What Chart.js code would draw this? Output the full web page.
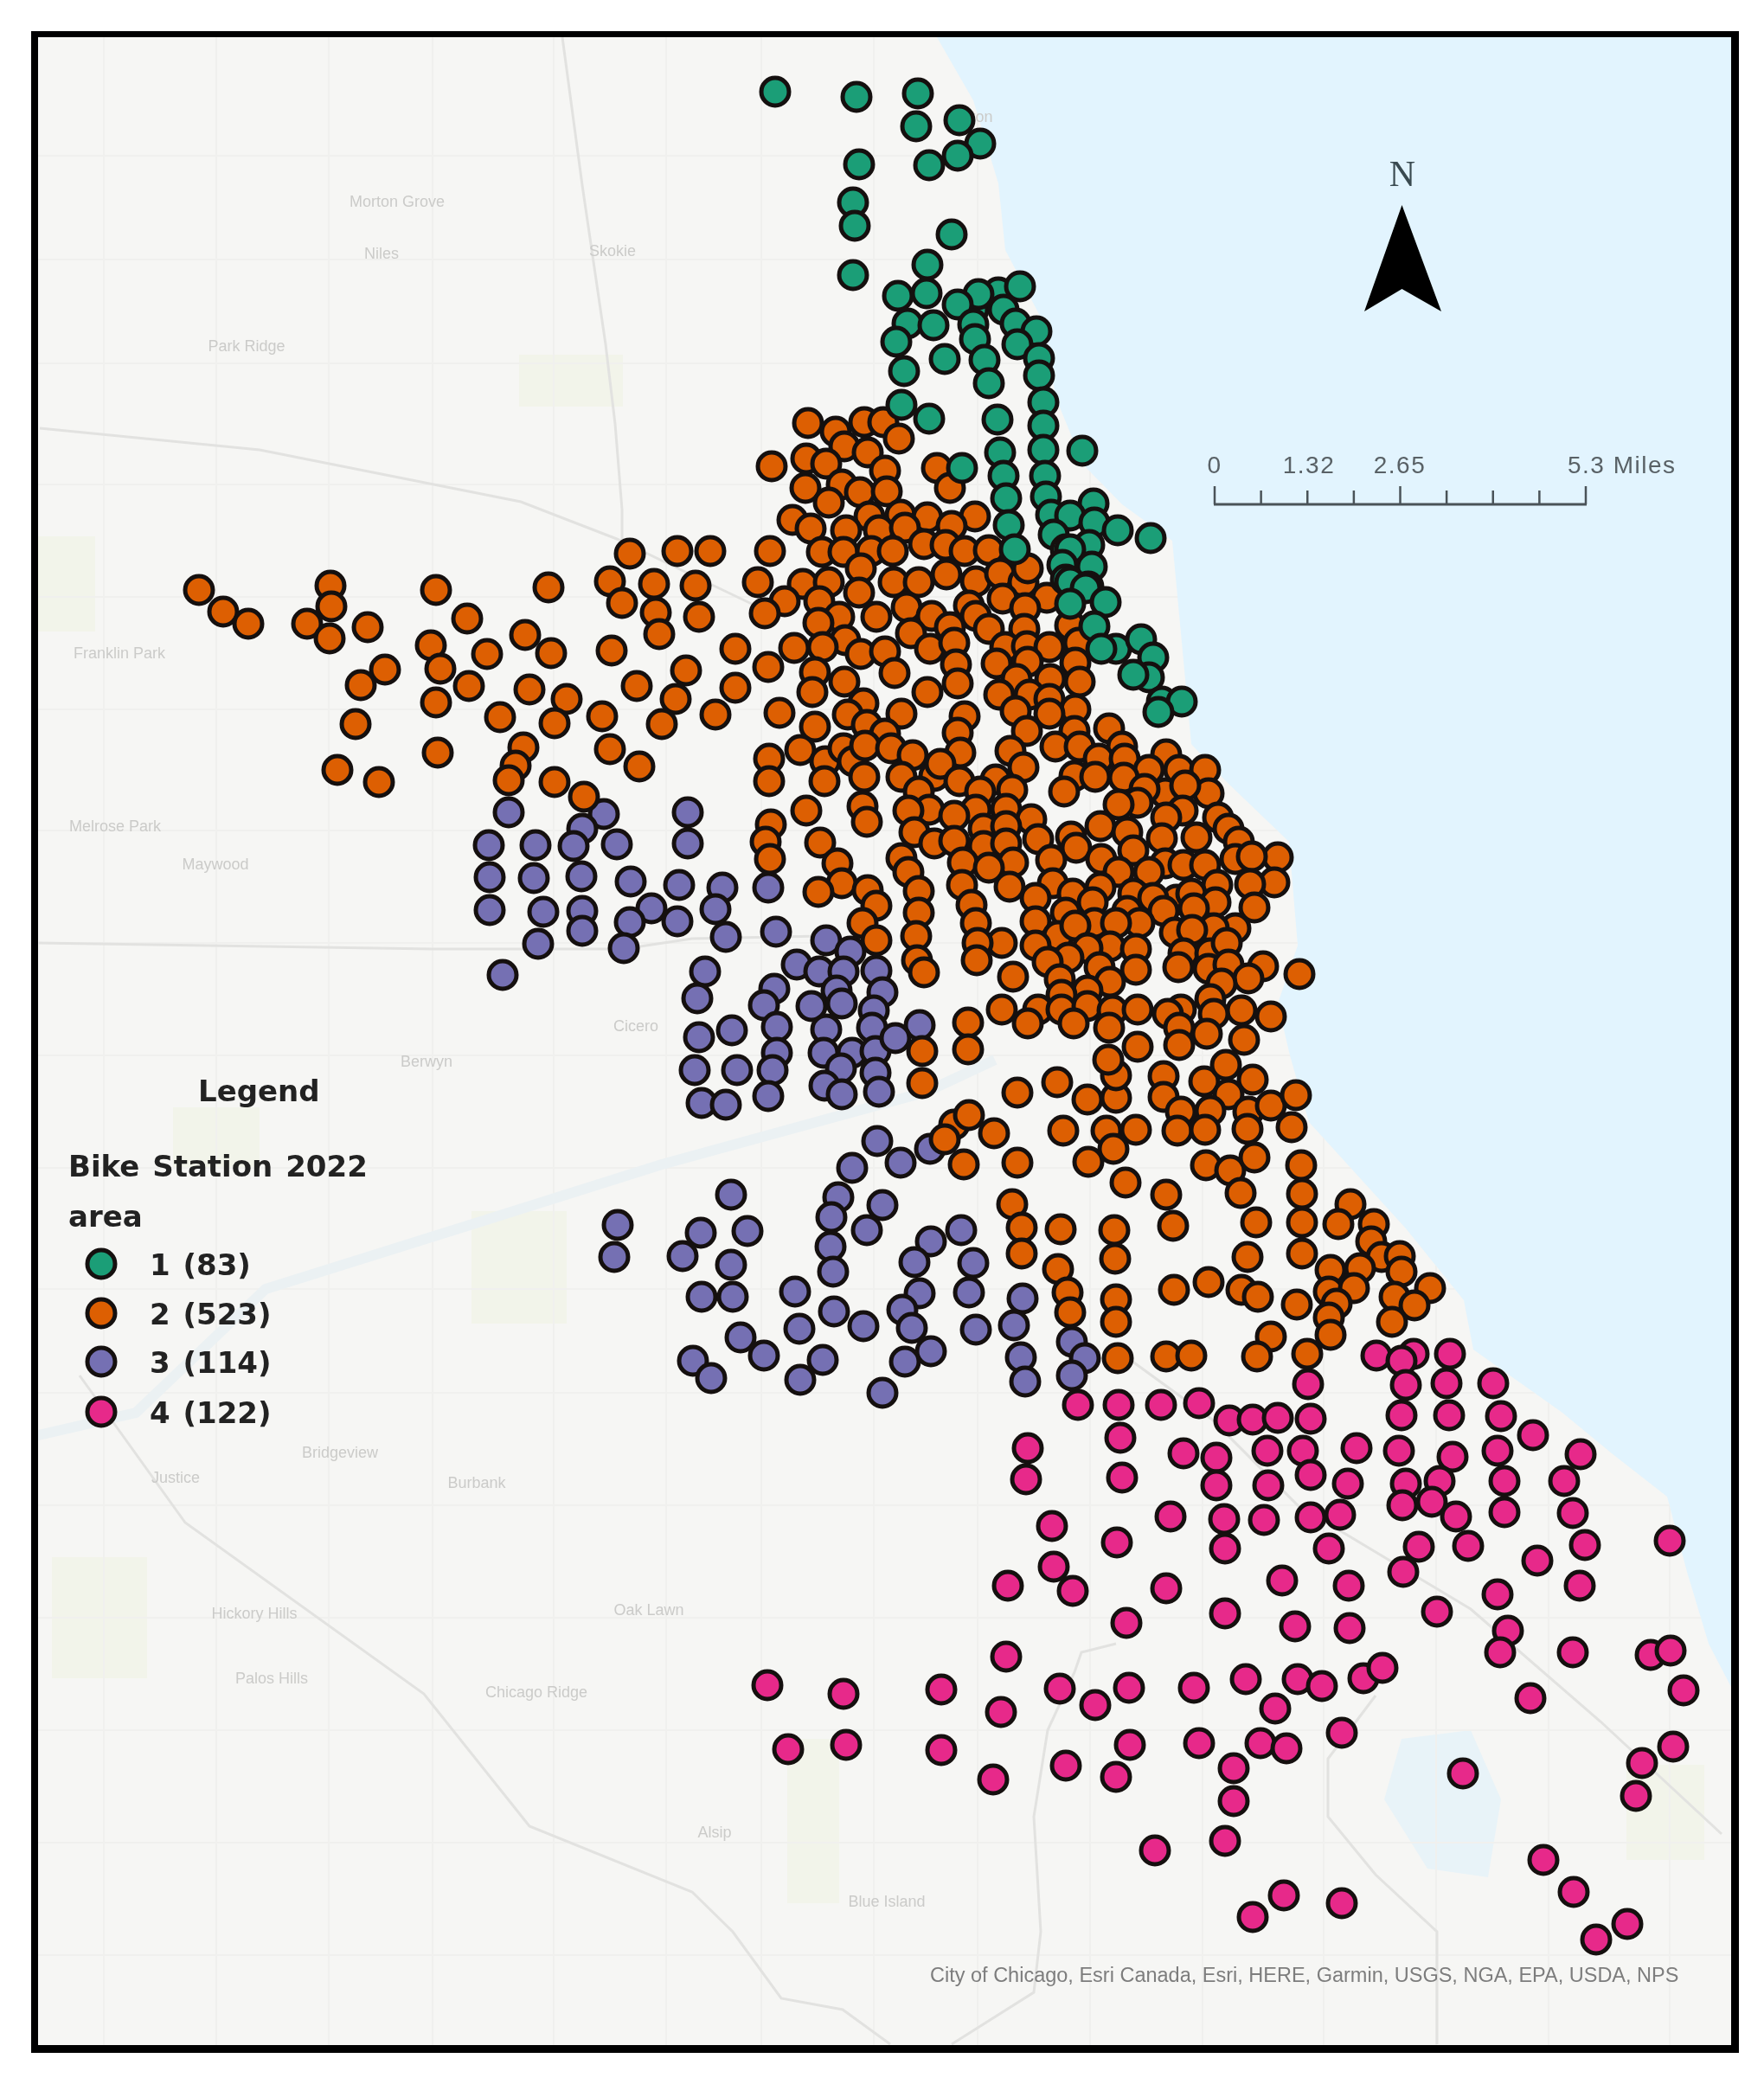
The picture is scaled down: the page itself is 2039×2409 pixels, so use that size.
<!DOCTYPE html>
<html>
<head>
<meta charset="utf-8">
<title>Bike Station 2022</title>
<script src="https://cdn.jsdelivr.net/npm/chart.js@4"></script>
<style>
  html, body { margin:0; padding:0; background:#fff; }
  canvas { display:block; filter:blur(0.7px); }
</style>
</head>
<body>
<canvas id="mapChart" width="2039" height="2409"></canvas>
<script>
// stations (map position in picture pixels)
const area1 = [[896,106],[990,112],[1061,108],[1059,146],[1109,139],[1133,166],[1107,180],[1074,191],[993,190],[986,234],[988,261],[1100,271],[1072,306],[986,318],[1038,342],[1071,339],[1154,338],[1179,331],[1125,358],[1160,358],[1131,340],[1107,352],[1049,374],[1079,376],[1125,375],[1174,374],[1198,383],[1036,395],[1127,392],[1176,398],[1092,415],[1138,416],[1201,414],[1045,429],[1201,434],[1143,443],[1206,465],[1042,468],[1074,484],[1153,485],[1206,492],[1156,523],[1206,520],[1251,521],[1112,541],[1160,550],[1208,550],[1163,576],[1209,574],[1264,582],[1215,595],[1237,596],[1265,604],[1166,607],[1292,613],[1330,622],[1218,618],[1173,635],[1232,635],[1259,630],[1237,635],[1262,655],[1228,653],[1232,670],[1237,673],[1258,678],[1255,680],[1278,696],[1237,698],[1265,724],[1290,750],[1273,750],[1319,739],[1333,760],[1328,783],[1310,780],[1343,811],[1366,811],[1339,823]];

const area2 = [[934,489],[966,499],[999,488],[1021,488],[1039,507],[976,516],[1003,523],[932,530],[955,536],[892,539],[1023,544],[1083,541],[973,560],[931,564],[1098,564],[994,569],[1025,568],[958,581],[916,601],[1005,597],[1041,595],[1072,598],[1127,597],[1100,608],[937,611],[978,613],[1016,613],[1046,610],
  [890,637],[950,638],[975,638],[1007,637],[1032,637],[1068,629],[1093,630],[1115,637],[1143,636],[995,657],[876,673],[928,675],[958,673],[993,685],[1033,673],[1062,673],[1094,664],[1128,672],[1156,663],[1183,673],[1188,657],[1159,692],[1210,691],[907,695],[884,709],[947,695],[1048,702],[1120,700],[1185,703],[970,713],[946,720],[1013,713],[1077,712],[1128,712],[1143,727],[1184,727],[1237,723],[1098,725],[1053,732],[977,740],[918,749],[951,748],[995,756],[1023,753],[1075,750],[1103,743],[1162,748],[1187,747],[1213,748],[1247,743],[888,771],[1105,768],[1152,767],[1188,765],[1243,766],[942,777],[1034,778],[976,788],[1175,785],[1214,785],[1107,790],[1248,788],[939,800],[1072,800],[1155,803],[1190,803],[1213,808],[998,813],[1243,820],[901,824],[980,826],[1042,825],[1115,828],[1174,822],[1213,825],[942,840],[1002,838],[1023,848],[1107,847],[1187,845],[1242,845],[1282,842],
  // west side
  [230,682],[258,707],[287,721],[382,677],[383,701],[355,721],[381,738],[425,725],[504,682],[540,715],[634,679],[728,640],[783,637],[821,637],[705,672],[756,675],[804,677],[719,697],[758,708],[808,713],[762,733],[607,734],[498,746],[563,756],[637,755],[707,752],[850,750],[445,774],[509,773],[793,775],[417,792],[542,793],[612,797],[736,793],[655,808],[781,808],[850,795],[504,812],[578,829],[641,836],[696,828],[827,826],[765,837],[411,837],[605,864],[705,866],[506,870],[739,886],[596,885],[390,890],[438,904],[588,902],[641,904],[675,921],
  [889,877],[889,903],[925,867],[954,880],[953,903],[975,865],[986,880],[999,898],[1000,862],[932,937],[997,932],[1002,950],[891,953],[885,973],[890,993],[948,974],[968,998],[973,1021],[946,1031],[1003,1029],[1013,1047],[997,1067],[1013,1087],
  // loop and downtown
  [1030,865],[1055,873],[1110,870],[1168,868],[1183,887],[1220,863],[1248,863],[1297,863],[1348,872],[1270,877],[1300,877],[1363,890],[1393,890],[1328,890],[1042,898],[1080,897],[1087,883],[1109,903],[1151,901],[1242,897],[1266,898],[1299,899],[1230,915],[1397,917],[1347,917],[1323,912],[1370,908],[1062,915],[1170,913],[1133,915],[1074,936],[1050,937],[1128,936],[1163,935],[1103,943],[1192,947],[1315,928],[1293,930],[1367,937],[1408,945],[1348,945],[1272,955],[1303,962],[1420,958],[1057,962],[1137,958],[1163,955],[1343,969],[1383,968],[1432,973],[1200,970],[1238,967],[1244,980],[1080,975],[1103,972],[1137,978],[1163,975],[1310,983],[1477,991],[1428,993],[1447,990],[1042,992],[1215,994],[1273,993],[1113,997],[1171,997],[1347,998],[1368,1000],[1143,1003],[1328,1008],[1293,1008],[1050,1008],[1393,1000],[1473,1020],[1217,1021],[1272,1026],[1407,1023],[1445,1022],[1112,1023],[1167,1025],[1360,1040],[1062,1030],[1240,1033],[1310,1033],[1333,1038],[1377,1033],[1197,1038],[1123,1046],[1303,1053],[1450,1049],[1405,1043],[1263,1043],[1345,1053],[1380,1050],[1232,1055],[1062,1055],[1197,1065],[1128,1067],[1265,1067],[1317,1067],[1290,1067],[1428,1073],[1403,1073],[1358,1078],[1378,1075],[1223,1082],[1243,1070],[1059,1082],[1158,1090],[1130,1090],[1197,1093],[1283,1094],[1257,1096],[1313,1097],[1368,1102],[1399,1102],[1418,1090],[1235,1107],[1211,1112],[1129,1110],[1060,1110],[1271,1118],[1313,1121],[1362,1118],[1397,1120],[1420,1115],[1460,1117],[1502,1126],[1068,1124],[1443,1131],[1225,1132],[1171,1129],[1283,1135],[1412,1137],[1257,1145],[1399,1155],[1227,1150],[1158,1167],[1200,1167],[1227,1167],[1257,1163],[1286,1168],[1315,1167],[1365,1167],[1350,1172],[1435,1168],[1403,1172],[1469,1175],[1188,1183],[1119,1182],[1241,1183],[1282,1188],[1395,1195],[1363,1188],[1363,1208],[1438,1202],[1119,1213],[1315,1210],[1066,1215],
  // south side
  [1066,1252],[1176,1263],[1222,1251],[1257,1271],[1290,1269],[1290,1243],[1281,1225],[1345,1244],[1345,1268],[1392,1250],[1417,1231],[1448,1248],[1420,1265],[1365,1285],[1399,1284],[1443,1285],[1469,1278],[1498,1266],[1103,1300],[1120,1289],[1092,1317],[1149,1310],[1229,1307],[1279,1307],[1313,1306],[1361,1307],[1393,1306],[1442,1305],[1493,1303],[1287,1328],[1114,1346],[1176,1344],[1258,1343],[1394,1347],[1422,1353],[1450,1338],[1504,1347],[1301,1367],[1348,1381],[1434,1379],[1505,1380],[1170,1392],[1561,1392],[1181,1419],[1226,1421],[1288,1422],[1356,1417],[1452,1413],[1505,1413],[1547,1415],[1588,1415],[1585,1435],[1181,1449],[1289,1455],[1442,1453],[1505,1449],[1597,1453],[1618,1452],[1620,1470],[1538,1468],[1572,1466],[1223,1467],[1397,1482],[1234,1494],[1357,1491],[1435,1491],[1454,1499],[1536,1493],[1565,1489],[1653,1489],[1612,1499],[1545,1507],[1499,1508],[1635,1509],[1290,1502],[1237,1517],[1536,1523],[1290,1528],[1609,1528],[1538,1543],[1469,1545],[1453,1568],[1511,1565],[1292,1570],[1348,1568],[1377,1567]];

const area3 = [[588,939],[698,941],[673,958],[795,939],[565,977],[619,977],[663,978],[713,976],[795,975],[566,1014],[617,1015],[672,1013],[729,1019],[785,1023],[835,1026],[888,1026],[566,1052],[628,1054],[673,1053],[753,1050],[827,1051],[783,1065],[728,1066],[673,1076],[839,1083],[622,1091],[721,1096],[897,1077],[581,1127],[955,1087],[983,1100],[921,1115],[947,1123],[975,1123],[1013,1122],[815,1123],[806,1154],[895,1143],[883,1162],[967,1145],[1020,1147],[938,1163],[973,1160],[1010,1168],[898,1187],[955,1190],[1008,1188],[808,1199],[846,1191],[898,1217],[952,1217],[985,1217],[1012,1215],[1063,1185],[1035,1200],[803,1237],[852,1237],[893,1237],[972,1235],[1012,1240],[953,1255],[973,1265],[1016,1262],[888,1267],[811,1275],[839,1277],
  [1014,1319],[1041,1344],[1075,1328],[985,1350],[845,1381],[969,1384],[1020,1393],[961,1407],[1002,1422],[714,1416],[810,1425],[864,1423],[1111,1422],[1076,1435],[710,1453],[789,1452],[845,1462],[960,1441],[963,1470],[1057,1459],[1125,1460],[811,1499],[847,1499],[919,1493],[1063,1495],[1120,1494],[1182,1501],[964,1516],[1043,1514],[924,1536],[998,1533],[1054,1535],[1128,1537],[1172,1532],[856,1546],[883,1567],[951,1572],[1076,1562],[1046,1574],[1180,1569],[1239,1551],[1254,1570],[801,1573],[822,1593],[925,1595],[1185,1597],[1239,1590],[1020,1610]];

const area4 = [[1246,1624],[1293,1624],[1342,1624],[1386,1622],[1421,1642],[1448,1641],[1477,1639],[1515,1640],[1512,1600],[1591,1567],[1634,1565],[1620,1573],[1676,1565],[1625,1601],[1672,1599],[1726,1599],[1620,1636],[1675,1636],[1735,1637],[1772,1659],[1827,1681],[1188,1674],[1295,1662],[1368,1680],[1406,1685],[1465,1677],[1506,1677],[1568,1674],[1617,1677],[1679,1684],[1731,1677],[1186,1710],[1297,1708],[1406,1717],[1466,1717],[1515,1705],[1558,1715],[1625,1715],[1664,1712],[1739,1712],[1808,1712],[1621,1740],[1655,1736],[1683,1753],[1739,1748],[1818,1749],[1216,1764],[1353,1753],[1415,1756],[1461,1757],[1515,1754],[1549,1751],[1291,1783],[1416,1790],[1536,1790],[1640,1788],[1697,1787],[1832,1786],[1930,1781],[1218,1811],[1622,1817],[1777,1804],[1165,1833],[1240,1839],[1348,1836],[1482,1827],[1559,1833],[1731,1843],[1826,1833],[1302,1876],[1416,1865],[1497,1880],[1560,1882],[1661,1863],[1743,1885],[1163,1915],[1734,1910],[1818,1910],[1908,1913],[1931,1908],[1225,1952],[1305,1951],[1380,1951],[1440,1941],[1500,1941],[1528,1949],[1576,1940],[1598,1928],[1769,1963],[1946,1954],[1266,1971],[1474,1975],[1157,1979],
  [887,1948],[975,1958],[1088,1953],[1551,2003],[911,2022],[978,2017],[1088,2023],[1306,2017],[1386,2015],[1457,2015],[1487,2021],[1232,2041],[1290,2054],[1148,2057],[1426,2044],[1426,2082],[1691,2050],[1934,2019],[1898,2038],[1891,2076],[1416,2128],[1335,2139],[1784,2150],[1819,2187],[1484,2191],[1551,2200],[1448,2216],[1881,2224],[1845,2242]];

const areaLabels = ['1 (83)', '2 (523)', '3 (114)', '4 (122)'];
const areaColors = ['#1b9e77', '#dd5f02', '#7570b3', '#e7298a'];

// base map pieces
const lakeShore = [[1083,43],[1125,116],[1154,212],[1162,289],[1202,365],[1221,461],[1252,537],[1297,583],[1355,625],[1377,860],[1417,903],[1490,973],[1500,1093],[1477,1160],[1491,1220],[1513,1297],[1625,1420],[1692,1503],[1703,1560],[1806,1633],[1863,1680],[1927,1730],[1950,1817],[1975,1900],[2001,1950]];
const calumet = [[1620,2010],[1700,2000],[1735,2080],[1720,2170],[1650,2160],[1600,2080]];
const parks = [[200,1280,100,70],[545,1400,110,130],[910,2010,60,190],[60,1800,110,140],[600,410,120,60],[1880,2040,90,110],[40,620,70,110]];
const streetsX = [120,250,380,500,640,770,880,1010,1130,1260,1390,1530,1660,1790,1930];
const streetsY = [180,300,420,560,690,820,960,1090,1220,1350,1490,1610,1740,1870,2000,2130,2260];
const highways = [
  [[650,43],[673,214],[700,398],[711,490],[719,589],[719,642]],
  [[46,495],[300,520],[602,580],[713,623],[825,677],[900,713]],
  [[45,1090],[500,1097],[720,1097],[800,1085],[950,1082]],
  [[92,1590],[214,1760],[490,1958],[612,2111],[800,2187],[847,2233],[903,2310],[974,2323],[1029,2363]],
  [[1100,2363],[1195,2303],[1203,2233],[1195,2100],[1211,2000],[1242,1933],[1250,1910],[1290,1900]],
  [[1661,2363],[1661,2233],[1590,2167],[1535,2100],[1535,2033],[1590,1960]],
  [[1290,1560],[1400,1640],[1500,1740],[1700,1860],[1850,1990],[1990,2120]]
];
const canal = [[40,1660],[157,1633],[307,1490],[540,1417],[765,1346],[1071,1262],[1150,1225]];
const placeNames = [['Park Ridge',285,401],['Melrose Park',133,956],['Maywood',249,1000],['Franklin Park',138,756],['Berwyn',493,1228],['Oak Lawn',750,1862],['Bridgeview',393,1680],['Burbank',551,1715],['Chicago Ridge',620,1957],['Palos Hills',314,1941],['Hickory Hills',294,1866],['Justice',203,1709],['Skokie',708,291],['Morton Grove',459,234],['Niles',441,294],['Cicero',735,1187],['Alsip',826,2119],['Blue Island',1025,2199],['ton',1135,136]];
const scaleTicks = [0, 0.6625, 1.325, 1.9875, 2.65, 3.3125, 3.975, 4.6375, 5.3];
const scaleLabels = ['0', '1.32', '2.65'];
const credits = 'City of Chicago, Esri Canada, Esri, HERE, Garmin, USGS, NGA, EPA, USDA, NPS';

function poly(ctx, pts, close){
  ctx.beginPath();
  pts.forEach((p,i)=> i ? ctx.lineTo(p[0],p[1]) : ctx.moveTo(p[0],p[1]));
  if(close) ctx.closePath();
}

const basemap = {
  id:'basemap',
  beforeDatasetsDraw(chart){
    const ctx = chart.ctx;
    ctx.save();
    ctx.fillStyle = '#000';
    ctx.fillRect(36,36,1974,2337);
    ctx.beginPath(); ctx.rect(44,43,1957,2321); ctx.clip();
    ctx.fillStyle = '#f6f6f4';
    ctx.fillRect(44,43,1957,2321);
    // lake
    poly(ctx, lakeShore.concat([[2001,43]]), true);
    ctx.fillStyle = '#e2f4fe'; ctx.fill();
    poly(ctx, calumet, true);
    ctx.fillStyle = '#e8f3f8'; ctx.fill();
    ctx.fillStyle = '#f2f4ea';
    parks.forEach(p => ctx.fillRect(p[0],p[1],p[2],p[3]));
    // street grid stops at the shore
    ctx.save();
    poly(ctx, [[44,43]].concat(lakeShore).concat([[2001,2364],[44,2364]]), true);
    ctx.clip();
    ctx.strokeStyle = '#f0f0ee'; ctx.lineWidth = 2;
    streetsX.forEach(x => { ctx.beginPath(); ctx.moveTo(x,43); ctx.lineTo(x,2364); ctx.stroke(); });
    streetsY.forEach(y => { ctx.beginPath(); ctx.moveTo(44,y); ctx.lineTo(2001,y); ctx.stroke(); });
    ctx.restore();
    poly(ctx, canal);
    ctx.strokeStyle = '#ebf1f3'; ctx.lineWidth = 12; ctx.stroke();
    ctx.strokeStyle = '#e2e2e0'; ctx.lineWidth = 3;
    highways.forEach(h => { poly(ctx, h); ctx.stroke(); });
    // faint place names
    ctx.fillStyle = '#cbcbc9'; ctx.font = '18px "Liberation Sans"';
    ctx.textAlign = 'center'; ctx.textBaseline = 'middle';
    placeNames.forEach(n => ctx.fillText(n[0], n[1], n[2]));
    ctx.restore();
  },
  afterDatasetsDraw(chart){
    const ctx = chart.ctx;
    ctx.save();
    ctx.textBaseline = 'alphabetic'; ctx.textAlign = 'left';
    // legend
    ctx.fillStyle = '#222';
    ctx.font = 'bold 34px "DejaVu Sans"';
    ctx.wordSpacing = '3px';
    ctx.fillText('Legend', 229, 1273);
    ctx.fillText('Bike Station 2022', 79, 1360);
    ctx.fillText('area', 79, 1418);
    const rowY = [1461,1518,1574,1632];
    areaLabels.forEach((t,i)=>{
      ctx.beginPath(); ctx.arc(117, rowY[i], 16, 0, Math.PI*2);
      ctx.fillStyle = areaColors[i]; ctx.fill();
      ctx.lineWidth = 5; ctx.strokeStyle = '#15100f'; ctx.stroke();
      ctx.fillStyle = '#222';
      ctx.fillText(t, 173, rowY[i]+13);
    });
    ctx.wordSpacing = '0px';
    // north arrow
    ctx.fillStyle = '#3a4a50'; ctx.font = '42px "Liberation Serif"'; ctx.textAlign = 'center';
    ctx.fillText('N', 1621, 215);
    poly(ctx, [[1620.5,237],[1666,360],[1620.5,334],[1577,360]], true);
    ctx.fillStyle = '#000'; ctx.fill();
    // scale bar, 5.3 miles long
    const barL = 1404, barR = 1833, barY = 583;
    const mi = m => barL + (barR-barL)*m/5.3;
    ctx.strokeStyle = '#4a5358'; ctx.lineWidth = 3;
    ctx.beginPath(); ctx.moveTo(barL-1,barY); ctx.lineTo(barR+1,barY); ctx.stroke();
    scaleTicks.forEach((m,i)=>{
      ctx.lineWidth = 2.5;
      ctx.beginPath(); ctx.moveTo(mi(m),barY); ctx.lineTo(mi(m), i%4===0 ? 562 : 567); ctx.stroke();
    });
    ctx.fillStyle = '#596166'; ctx.font = '28px "Liberation Sans"';
    ctx.letterSpacing = '1.5px';
    ctx.fillText(scaleLabels[0], 1404, 547);
    ctx.fillText(scaleLabels[1], 1513, 547);
    ctx.fillText(scaleLabels[2], 1618, 547);
    ctx.textAlign = 'left';
    ctx.fillText('5.3 Miles', 1812, 547);
    ctx.letterSpacing = '0px';
    // credits
    ctx.fillStyle = '#7d7d7d'; ctx.font = '23.5px "Liberation Sans"';
    ctx.fillText(credits, 1075, 2291);
    ctx.restore();
  }
};

function stationSet(label, pts, color, order){
  return {
    label,
    data: pts.map(p => ({x:p[0], y:p[1]})),
    backgroundColor: color,
    borderColor: '#15100f',
    borderWidth: 5,
    pointRadius: 16,
    pointHoverRadius: 16,
    order
  };
}

new Chart(document.getElementById('mapChart'), {
  type:'scatter',
  data:{ datasets:[
    stationSet(areaLabels[0], area1, areaColors[0], 1),
    stationSet(areaLabels[1], area2, areaColors[1], 2),
    stationSet(areaLabels[2], area3, areaColors[2], 3),
    stationSet(areaLabels[3], area4, areaColors[3], 4)
  ]},
  options:{
    responsive:false,
    animation:false,
    devicePixelRatio:1,
    layout:{ padding:0, autoPadding:false },
    plugins:{ legend:{display:false}, tooltip:{enabled:false} },
    scales:{
      x:{ type:'linear', min:0, max:2039, display:false },
      y:{ type:'linear', min:0, max:2409, reverse:true, display:false }
    }
  },
  plugins:[basemap]
});
</script>
</body>
</html>
